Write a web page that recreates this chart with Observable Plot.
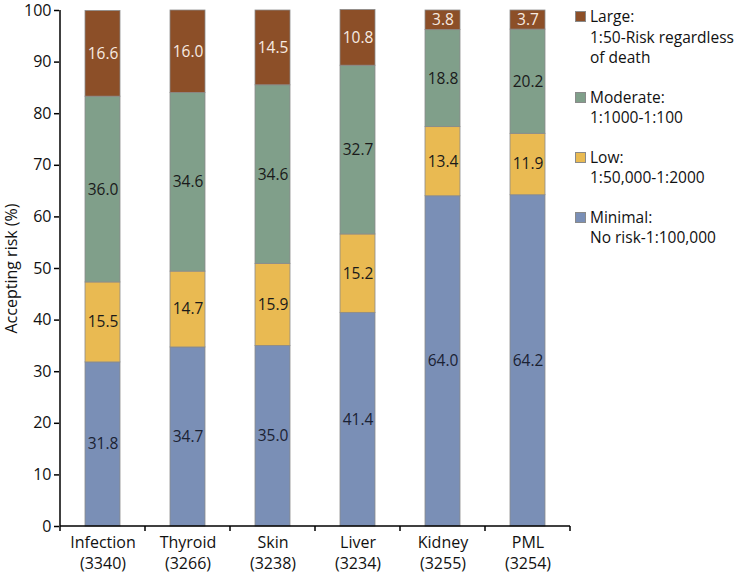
<!DOCTYPE html>
<html>
<head>
<meta charset="utf-8">
<script src="https://cdn.jsdelivr.net/npm/d3@7"></script>
<script src="https://cdn.jsdelivr.net/npm/@observablehq/plot@0.6"></script>
<style>
  html, body { margin: 0; padding: 0; background: #fff; }
  #wrap { position: relative; width: 736px; height: 576px; font-family: "Open Sans", sans-serif; }
  #legend { position: absolute; left: 575px; top: 6px; font-size: 15.5px; color: #111; white-space: nowrap; }
  .entry { position: relative; padding-left: 15px; line-height: 20.5px; margin-bottom: 19px; }
  .sw { position: absolute; left: 0; top: 5px; width: 9px; height: 9px; border: 1px solid #8a8a8a; box-sizing: content-box; }
</style>
</head>
<body>
<div id="wrap"><div id="legend"></div></div>
<script>
const categories = ["Infection", "Thyroid", "Skin", "Liver", "Kidney", "PML"];
const counts = [3340, 3266, 3238, 3234, 3255, 3254];
const seriesNames = ["Minimal", "Low", "Moderate", "Large"];
const seriesDesc = ["No risk-1:100,000", "1:50,000-1:2000", "1:1000-1:100", "1:50-Risk regardless\nof death"];
const minimal = [31.8, 34.7, 35.0, 41.4, 64.0, 64.2];
const low = [15.5, 14.7, 15.9, 15.2, 13.4, 11.9];
const moderate = [36.0, 34.6, 34.6, 32.7, 18.8, 20.2];
const large = [16.6, 16.0, 14.5, 10.8, 3.8, 3.7];
const yTicks = [0, 10, 20, 30, 40, 50, 60, 70, 80, 90, 100];
const colors = ["#7A8FB6", "#E9BA52", "#809F8A", "#8C4F28"];
const labelColors = ["#1a2233", "#1a1a1a", "#1a1a1a", "#f7ebe2"];

const seriesValues = [minimal, low, moderate, large];
const data = [];
seriesNames.forEach((s, si) => {
  categories.forEach((c, ci) => {
    data.push({cat: c, series: s, value: seriesValues[si][ci], lc: labelColors[si]});
  });
});

const chart = Plot.plot({
  width: 736,
  height: 576,
  marginLeft: 59,
  marginRight: 166,
  marginTop: 10,
  marginBottom: 50,
  style: {fontFamily: "'Open Sans', sans-serif", fontSize: "16px", color: "#111", background: "transparent", overflow: "visible"},
  x: {domain: categories, paddingInner: 0.59, paddingOuter: 0.295, align: 0.5},
  y: {domain: [0, 100]},
  color: {domain: seriesNames, range: colors},
  marks: [
    Plot.barY(data, {x: "cat", y: "value", fill: "series", stroke: "#8a8a8a", strokeWidth: 0.8, order: seriesNames}),
    Plot.text(data, Plot.stackY({x: "cat", y: "value", z: "series", order: seriesNames, text: d => d.value.toFixed(1), fill: "lc", fontSize: 15.5})),
    Plot.axisY({ticks: yTicks, tickSize: 5, tickPadding: 3, fontSize: 16, stroke: "#000", strokeWidth: 1.5, label: "Accepting risk (%)", labelAnchor: "center", labelOffset: 54, labelArrow: "none"}),
    Plot.axisX({tickSize: 0, tickPadding: 7, fontSize: 16, lineHeight: 1.3, label: null, tickFormat: d => `${d}\n(${counts[categories.indexOf(d)]})`})
  ]
});

// axis lines and category-boundary ticks, from the plot's own scales
const xs = chart.scale("x"), ys = chart.scale("y");
const y0 = ys.apply(0), y100 = ys.apply(100);
const bounds = categories.map(c => xs.apply(c) + xs.bandwidth / 2 - xs.step / 2);
bounds.push(bounds[bounds.length - 1] + xs.step);
const svg = d3.select(chart);
svg.selectAll('[aria-label="y-axis label"], [aria-label="y-axis label"] text').attr("font-size", 16);
const g = svg.append("g").attr("stroke", "#000").attr("stroke-width", 1.5);
g.append("line").attr("x1", bounds[0]).attr("x2", bounds[0]).attr("y1", y0).attr("y2", y100);
g.append("line").attr("x1", bounds[0]).attr("x2", bounds[bounds.length - 1]).attr("y1", y0).attr("y2", y0);
bounds.forEach(b => g.append("line").attr("x1", b).attr("x2", b).attr("y1", y0).attr("y2", y0 + 5));

document.getElementById("wrap").prepend(chart);
chart.style.position = "absolute";
chart.style.left = "0";
chart.style.top = "0";

// legend
const legend = d3.select("#legend");
[3, 2, 1, 0].forEach(i => {
  const e = legend.append("div").attr("class", "entry");
  e.append("span").attr("class", "sw").style("background", colors[i]);
  e.append("div").text(seriesNames[i] + ":");
  seriesDesc[i].split("\n").forEach(line => e.append("div").text(line));
});
</script>
</body>
</html>
